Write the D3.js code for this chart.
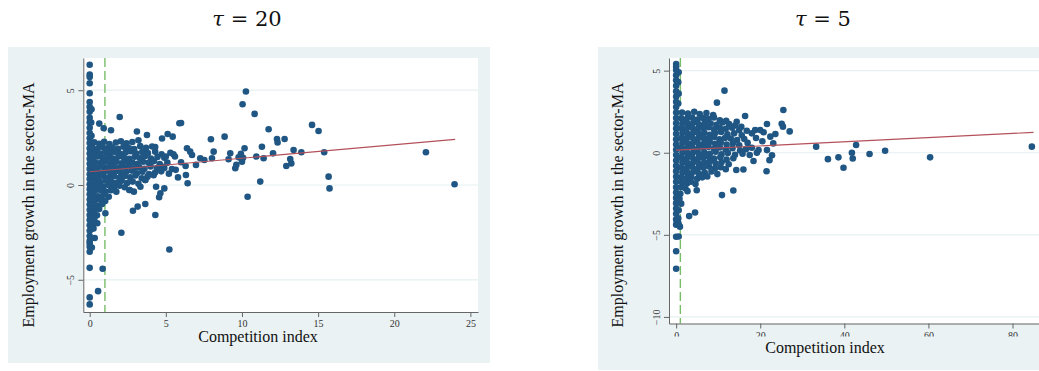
<!DOCTYPE html>
<html>
<head>
<meta charset="utf-8">
<script src="https://cdn.jsdelivr.net/npm/d3@7"></script>
<style>
  html, body { margin: 0; padding: 0; background: #fff; }
  svg { display: block; }
</style>
</head>
<body>
<svg id="chart" width="1039" height="371"></svg>
<script>
// ---- data: tau = 20 ----
const tau20Title = "20";
const tau20XTicks = [0, 5, 10, 15, 20, 25];
const tau20YTicks = [-5, 0, 5];
const tau20Fit = [[0, 0.70], [24, 2.41]];
const tau20Points = [
  // firms at index 0
  [0,6.34],[0,5.83],[0,5.7],[0,5.37],[0,4.84],
  [0,4.38],[0,4.12],[0,3.86],[0,3.55],[0,3.31],[0,3.02],[0,2.74],[0,2.47],[0,2.21],[0,1.93],
  [0,1.66],[0,1.38],[0,1.12],[0,0.85],[0,0.57],[0,0.31],[0,0.04],[0,-0.22],[0,-0.49],[0,-0.77],
  [0,-1.03],[0,-1.31],[0,-1.58],[0,-1.84],[0,-2.12],[0,-2.41],[0,-2.69],[0,-2.95],[0,-3.08],
  [0,-3.26],[0,-3.52],[0,-4.37],[0,-5.93],[0,-6.3],
  [0.12,4.0],[0.1,3.3],[0.12,2.6],
  // main cloud
  [0.3,2.25],[0.62,2.18],[0.95,2.28],[1.3,2.16],[1.72,2.24],[2.05,2.31],[2.42,2.2],[2.8,2.27],[3.2,2.36],
  [0.18,1.97],[0.5,1.9],[0.82,2.0],[1.15,1.93],[1.5,1.98],[1.86,1.91],[2.22,2.02],[2.57,1.95],[2.92,1.9],[3.32,2.05],[3.7,1.96],[4.1,2.03],
  [0.35,1.72],[0.68,1.66],[1.02,1.74],[1.36,1.68],[1.66,1.75],[2.0,1.65],[2.36,1.72],[2.7,1.78],[3.06,1.66],[3.45,1.74],[3.82,1.68],[4.3,1.76],[4.72,1.62],[5.3,1.7],
  [0.2,1.45],[0.54,1.5],[0.86,1.42],[1.2,1.47],[1.55,1.4],[1.9,1.5],[2.25,1.44],[2.6,1.38],[2.96,1.49],[3.3,1.42],[3.62,1.52],[4.02,1.4],[4.45,1.48],[4.9,1.44],[5.6,1.5],
  [0.36,1.2],[0.7,1.16],[1.04,1.24],[1.4,1.18],[1.76,1.22],[2.1,1.15],[2.44,1.25],[2.8,1.19],[3.14,1.12],[3.5,1.23],[3.86,1.17],[4.22,1.26],[4.6,1.1],[5.1,1.18],
  [0.2,0.95],[0.5,0.9],[0.84,0.98],[1.2,0.93],[1.55,0.97],[1.9,0.9],[2.2,0.96],[2.56,1.0],[2.9,0.88],[3.26,0.94],[3.6,0.86],[4.0,0.98],[4.42,0.9],[4.82,0.96],[5.4,0.84],
  [0.35,0.7],[0.7,0.66],[1.0,0.74],[1.35,0.68],[1.7,0.72],[2.05,0.64],[2.4,0.7],[2.76,0.76],[3.1,0.62],[3.46,0.7],[3.9,0.58],[4.3,0.66],[4.7,0.72],
  [0.2,0.45],[0.55,0.42],[0.9,0.48],[1.25,0.4],[1.6,0.46],[1.95,0.38],[2.3,0.47],[2.66,0.4],[3.0,0.5],[3.42,0.36],[3.8,0.44],[4.2,0.52],
  [0.35,0.2],[0.7,0.16],[1.05,0.24],[1.4,0.18],[1.76,0.12],[2.1,0.22],[2.46,0.1],[2.82,0.18],[3.2,0.06],[3.65,0.26],
  [0.2,-0.05],[0.55,-0.02],[0.9,-0.08],[1.25,0.0],[1.6,-0.1],[1.95,-0.04],[2.3,-0.12],
  [0.35,-0.3],[0.7,-0.26],[1.05,-0.34],[1.4,-0.28],[1.75,-0.36],[2.6,-0.26],[2.9,-0.35],
  [0.2,-0.55],[0.55,-0.6],[0.9,-0.52],[1.25,-0.62],
  [0.35,-0.8],[0.7,-0.78],[1.02,-0.84],
  [0.2,-1.05],[0.55,-1.1],[0.82,-1.0],
  [0.3,-1.3],[0.62,-1.26],[0.26,-1.52],[0.48,-1.6],[1.03,-1.49],
  [0.3,-1.8],[0.2,-2.05],[0.5,-2.02],[0.25,-2.3],[0.33,-2.8],[0.14,-3.3],
  // scattered
  [0.85,-4.42],[0.55,-5.6],[2.08,-2.52],[5.23,-3.4],
  [0.63,3.24],[0.92,2.99],[1.4,2.89],[1.97,3.59],[3.1,2.82],[3.76,2.64],[4.75,2.45],[5.12,2.69],[5.45,2.55],
  [5.89,3.26],[6.0,3.27],[6.32,0.53],[6.43,0.09],[6.39,1.94],[6.6,1.76],[6.72,1.58],[6.98,1.06],
  [7.26,1.41],[7.53,1.32],[7.96,2.41],[8.14,1.76],[8.03,1.41],[8.86,2.55],[9.23,1.67],[9.12,1.36],
  [9.56,0.88],[9.63,1.06],[9.78,1.46],[10.0,1.23],[10.07,1.44],[9.93,1.64],[10.04,4.26],[10.26,4.93],
  [10.17,1.94],[10.37,-0.62],[10.83,3.75],[10.94,1.5],[11.2,0.18],[11.31,2.02],[11.42,1.41],[11.75,2.94],
  [12.04,1.67],[12.3,2.43],[12.34,2.24],[12.8,2.43],[12.91,1.0],[13.17,1.37],[13.24,1.14],[13.39,1.85],
  [13.9,1.73],[14.6,3.17],[15.03,2.85],[15.4,1.73],[15.69,0.44],[15.75,-0.18],[22.08,1.73],[23.96,0.04],
  [4.31,-1.58],[3.65,-1.0],[3.15,-1.14],[2.84,-1.36],[4.56,-0.65],[4.36,-0.09],[4.9,-0.18],[4.64,-0.44],
  [2.63,-0.26],[3.33,-0.09],[3.65,0.26],[4.3,2.0],[5.0,1.5],[5.5,1.62],[4.9,0.9],[5.2,0.6],[5.65,0.8],
  [6.0,1.2],[6.3,1.0],[5.8,0.4]
];

// ---- data: tau = 5 ----
const tau5Title = "5";
const tau5XTicks = [0, 20, 40, 60, 80];
const tau5YTicks = [-10, -5, 0, 5];
const tau5Fit = [[0, 0.16], [85, 1.24]];
const tau5Points = [
  // firms at index 0
  [0,5.4],[0,5.24],[0,5.04],[0,4.72],[0,4.41],[0,4.08],[0,3.74],[0,3.42],[0,3.1],[0,2.78],[0,2.45],
  [0,2.12],[0,1.8],[0,1.48],[0,1.15],[0,0.82],[0,0.5],[0,0.18],[0,-0.14],[0,-0.47],[0,-0.8],[0,-1.12],
  [0,-1.45],[0,-1.77],[0,-2.1],[0,-2.42],[0,-2.75],[0,-3.07],[0,-3.4],[0,-3.72],[0,-4.05],[0,-4.38],
  [0,-5.12],[0,-6.0],[0,-7.07],
  [0.6,4.9],[0.5,4.3],[0.6,3.6],[0.5,3.0],[0.6,-3.5],[0.5,-4.0],[0.9,-4.5],[0.6,-5.1],[0.16,-4.2],[0.56,-4.31],
  // main cloud
  [1.4,2.45],[2.8,2.38],[4.3,2.5],[5.6,2.36],[7.2,2.42],[8.8,2.3],
  [1.2,2.1],[2.5,2.05],[3.8,2.15],[5.1,2.02],[6.4,2.12],[7.7,2.06],[9.0,2.15],[10.4,1.98],[11.9,1.94],[14.4,1.89],
  [1.5,1.8],[2.8,1.76],[4.1,1.84],[5.4,1.72],[6.8,1.82],[8.2,1.78],[9.6,1.7],[11.0,1.84],[12.6,1.74],[14.0,1.66],[15.5,1.58],
  [1.2,1.5],[2.5,1.46],[3.8,1.54],[5.1,1.44],[6.4,1.5],[7.7,1.56],[9.0,1.42],[10.4,1.5],[11.8,1.46],[13.3,1.52],[15.0,1.38],[16.8,1.34],[18.8,1.38],
  [1.5,1.2],[2.8,1.14],[4.1,1.24],[5.4,1.16],[6.7,1.22],[8.0,1.1],[9.3,1.2],[10.7,1.26],[12.2,1.12],[13.8,1.18],[15.6,1.06],[18.0,1.18],
  [1.2,0.9],[2.5,0.86],[3.8,0.94],[5.1,0.84],[6.4,0.92],[7.7,0.88],[9.0,0.96],[10.3,0.82],[11.6,0.9],[13.0,0.86],[14.5,0.78],[16.2,0.84],
  [1.5,0.6],[2.8,0.56],[4.1,0.64],[5.4,0.52],[6.7,0.6],[8.0,0.66],[9.3,0.54],[10.6,0.62],[12.0,0.5],[13.5,0.58],[15.0,0.46],
  [1.2,0.3],[2.5,0.26],[3.8,0.34],[5.1,0.22],[6.4,0.3],[7.7,0.36],[9.0,0.24],[10.4,0.32],[11.8,0.2],[13.4,0.28],[15.2,0.14],[16.6,0.22],
  [1.5,0.0],[2.8,-0.04],[4.1,0.04],[5.4,-0.08],[6.7,0.02],[8.0,-0.06],[9.4,0.06],[10.8,-0.1],[12.3,-0.02],[14.0,-0.12],[15.8,-0.06],
  [1.2,-0.3],[2.5,-0.34],[3.8,-0.26],[5.1,-0.38],[6.4,-0.3],[7.7,-0.24],[9.0,-0.36],[10.5,-0.28],[12.0,-0.42],[13.6,-0.34],
  [1.5,-0.6],[2.8,-0.64],[4.1,-0.56],[5.4,-0.68],[6.7,-0.6],[8.0,-0.54],[9.4,-0.66],[10.8,-0.58],[12.5,-0.7],
  [1.2,-0.9],[2.5,-0.94],[3.8,-0.86],[5.1,-0.98],[6.4,-0.9],[7.8,-0.84],[9.2,-0.96],[10.6,-0.88],[11.8,-1.0],
  [1.5,-1.2],[2.8,-1.24],[4.1,-1.16],[5.4,-1.28],[6.8,-1.2],[8.4,-1.14],[9.8,-1.3],
  [1.2,-1.5],[2.5,-1.54],[3.6,-1.46],[5.0,-1.58],[6.2,-1.5],[7.4,-1.44],
  [1.4,-1.8],[2.6,-1.86],[3.5,-1.76],[4.6,-1.9],
  [1.2,-2.1],[2.2,-2.16],[2.7,-2.34],[4.9,-2.28],
  [1.0,-2.5],[0.8,-2.8],[1.2,-3.1],
  // scattered
  [9.7,3.05],[11.5,3.78],[16.4,2.24],[25.5,2.6],[25.1,1.76],[25.4,1.59],[27.0,1.3],[21.6,1.75],[20.0,1.38],
  [20.8,1.25],[22.4,0.98],[23.6,1.14],[23.1,0.57],[21.6,0.16],[22.8,-0.16],[22.2,-0.45],[21.5,-1.13],
  [16.0,-1.02],[14.3,-1.05],[18.4,-0.5],[17.5,-0.14],[19.2,0.0],[19.6,0.16],[17.0,0.6],[18.0,0.3],[19.0,0.9],[20.5,0.7],
  [33.3,0.37],[36.1,-0.39],[38.6,-0.28],[39.8,-0.91],[41.8,0.0],[42.0,-0.35],[42.8,0.47],[46.0,-0.08],
  [49.7,0.12],[60.4,-0.28],[84.6,0.37],
  [3.1,-3.86],[4.5,-3.64],[10.9,-2.58],[13.6,-2.3]
];

const cutoff = 1;
const xTitle = "Competition index";
const yTitle = "Employment growth in the sector-MA";

// ---- layout ----
const panels = [
  { id: 'p20', title: tau20Title, titleX: 247, points: tau20Points, fit: tau20Fit, xTicks: tau20XTicks, yTicks: tau20YTicks,
    bg: [8, 47, 482, 316], left: 83.3, right: 478, top: 58, bottom: 312,
    xDomain: [-0.42, 25.5], yDomain: [-6.7, 6.7],
    xTitleX: 258, xTitleY: 342, yTitleX: 28, yLabelOff: 13, xLabelClip: null },
  { id: 'p5', title: tau5Title, titleX: 823, points: tau5Points, fit: tau5Fit, xTicks: tau5XTicks, yTicks: tau5YTicks,
    bg: [598, 47, 441, 323], left: 669, right: 1039, top: 58, bottom: 323.5,
    xDomain: [-1.7, 86.3], yDomain: [-10.4, 5.77],
    xTitleX: 825, xTitleY: 353, yTitleX: 617, yLabelOff: 12.5, xLabelClip: 13 }
];

const svg = d3.select('#chart');
const defs = svg.append('defs');
const serif = '"Liberation Serif", "Times New Roman", serif';

function drawPanel(p) {
  const g = svg.append('g');
  g.append('rect')
    .attr('x', p.bg[0]).attr('y', p.bg[1]).attr('width', p.bg[2]).attr('height', p.bg[3])
    .attr('fill', '#eaf2f3');

  const x = d3.scaleLinear().domain(p.xDomain).range([p.left, p.right]);
  const y = d3.scaleLinear().domain(p.yDomain).range([p.bottom, p.top]);

  g.append('rect')
    .attr('x', p.left).attr('y', p.top)
    .attr('width', p.right - p.left).attr('height', p.bottom - p.top)
    .attr('fill', '#fff');

  g.append('g').selectAll('line')
    .data(p.yTicks)
    .enter().append('line')
    .attr('x1', p.left).attr('x2', p.right)
    .attr('y1', d => y(d)).attr('y2', d => y(d))
    .attr('stroke', '#e6eff1').attr('stroke-width', 1.2);

  // threshold at competition index = 1
  g.append('line')
    .attr('x1', x(cutoff)).attr('x2', x(cutoff))
    .attr('y1', p.top).attr('y2', p.bottom)
    .attr('stroke', '#78bd68').attr('stroke-width', 1.4)
    .attr('stroke-dasharray', '9,4');

  g.append('g').selectAll('circle')
    .data(p.points)
    .enter().append('circle')
    .attr('cx', d => x(d[0]))
    .attr('cy', d => y(d[1]))
    .attr('r', 3.3)
    .attr('fill', '#1f5683');

  g.append('path')
    .datum(p.fit)
    .attr('d', d3.line().x(d => x(d[0])).y(d => y(d[1])))
    .attr('fill', 'none')
    .attr('stroke', '#b4505a').attr('stroke-width', 1.2);

  const xAxis = g.append('g')
    .attr('transform', `translate(0,${p.bottom})`)
    .call(d3.axisBottom(x).tickValues(p.xTicks).tickSize(5).tickSizeOuter(0).tickPadding(3));
  const yAxis = g.append('g')
    .attr('transform', `translate(${p.left},0)`)
    .call(d3.axisLeft(y).tickValues(p.yTicks).tickSize(5).tickSizeOuter(0));

  [xAxis, yAxis].forEach(a => {
    a.select('.domain').attr('stroke', '#666');
    a.selectAll('.tick line').attr('stroke', '#666');
    a.selectAll('text').attr('fill', '#333')
      .style('font-family', serif).style('font-size', '10px');
  });

  // the tau = 5 panel's x labels are cut off at the bottom in the original
  if (p.xLabelClip !== null) {
    defs.append('clipPath').attr('id', 'clip-' + p.id)
      .append('rect')
      .attr('x', p.left - 20).attr('y', -300)
      .attr('width', p.right - p.left + 40).attr('height', 300 + p.xLabelClip);
    xAxis.attr('clip-path', `url(#clip-${p.id})`);
  }

  yAxis.selectAll('text')
    .attr('x', 0).attr('dy', '0.35em')
    .attr('text-anchor', 'middle')
    .attr('transform', `translate(${-p.yLabelOff},0) rotate(-90)`);

  g.append('text')
    .attr('x', p.xTitleX).attr('y', p.xTitleY)
    .attr('text-anchor', 'middle')
    .style('font-family', serif).style('font-size', '16px')
    .attr('fill', '#111')
    .text(xTitle);

  g.append('text')
    .attr('transform', `translate(${p.yTitleX},205) rotate(-90)`)
    .attr('dy', '0.35em')
    .attr('text-anchor', 'middle')
    .style('font-family', serif).style('font-size', '16px')
    .attr('fill', '#111')
    .text(yTitle);

  const t = g.append('text')
    .attr('x', p.titleX).attr('y', 26)
    .attr('text-anchor', 'middle')
    .style('font-family', '"DejaVu Serif", serif').style('font-size', '21px')
    .attr('fill', '#111');
  t.append('tspan').style('font-style', 'italic').text('τ');
  t.append('tspan').text(' = ' + p.title);
}

panels.forEach(drawPanel);
</script>
</body>
</html>
